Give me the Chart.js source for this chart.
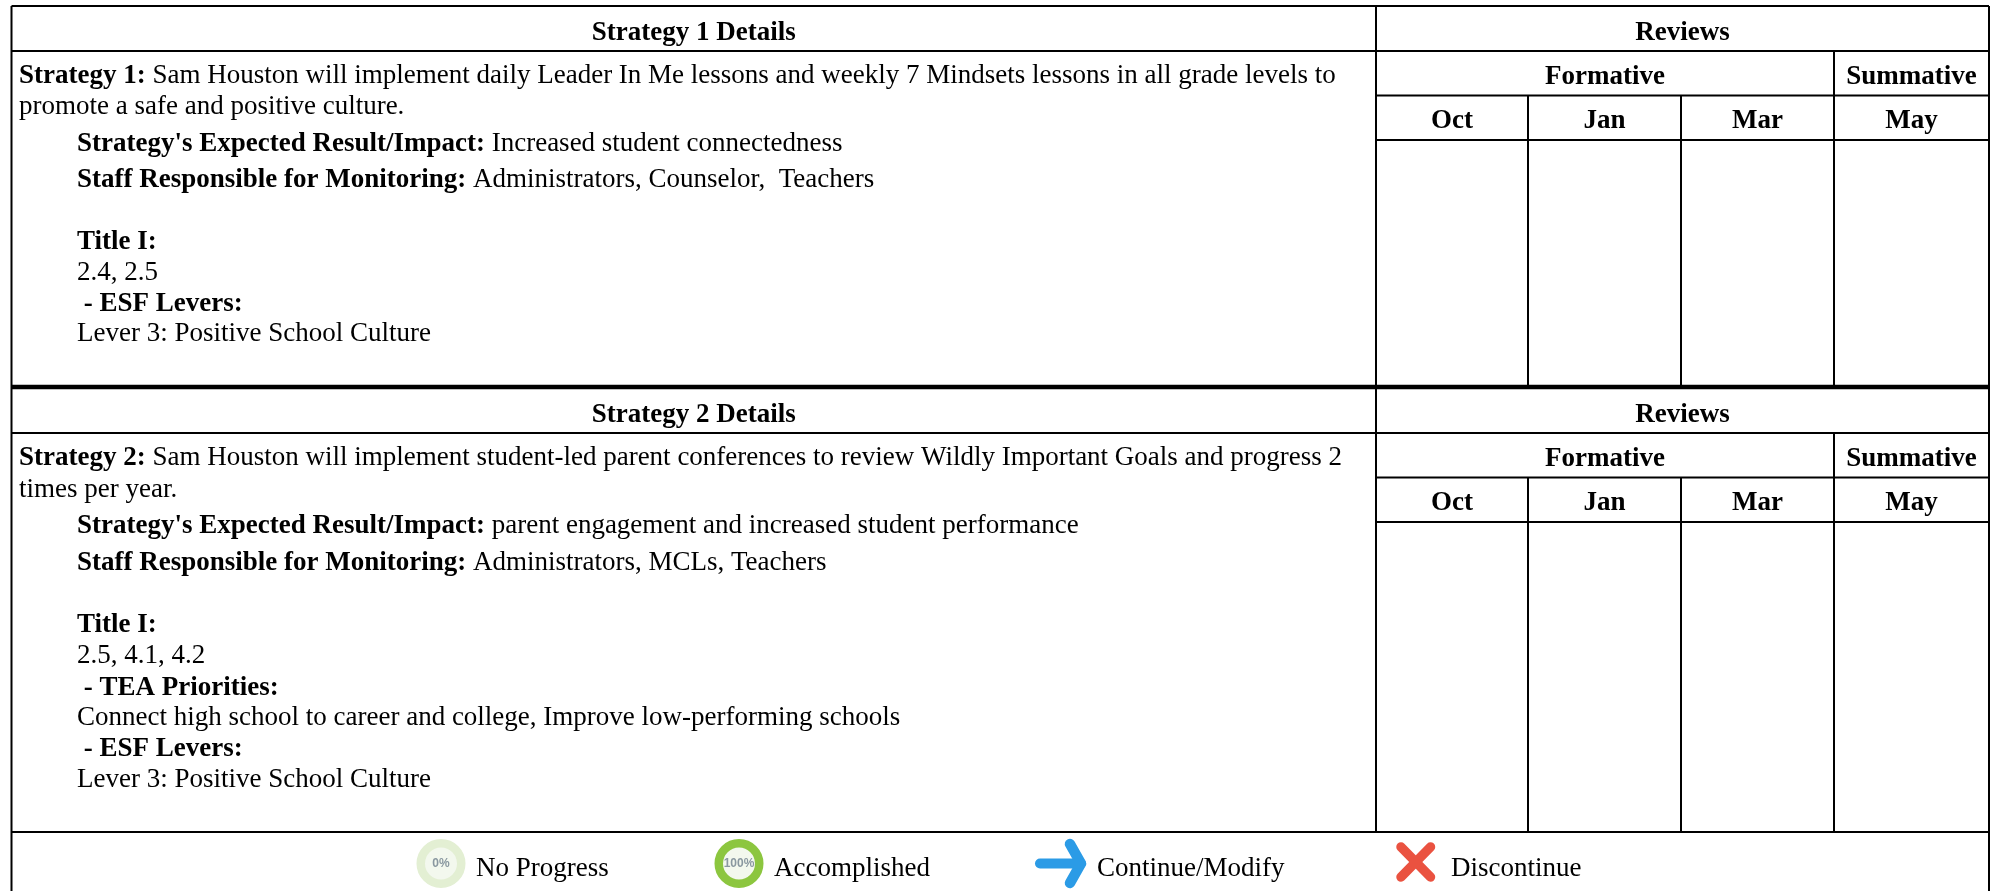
<!DOCTYPE html>
<html>
<head>
<meta charset="utf-8">
<title>Strategy Details</title>
<script src="https://cdn.jsdelivr.net/npm/chart.js@4"></script>
<style>
  body { margin: 0; background: #fff; }
  canvas { display: block; }
</style>
</head>
<body>
<canvas id="chart" width="1997" height="891"></canvas>
<script>
// table rules
const columnEdges = [11.5, 1376, 1528, 1681, 1834, 1989];
const block1Rows = [6, 51, 95.5, 140, 387];
const block2Rows = [387, 433, 477.5, 522, 832];
const pageBottom = 891;

const detailHeaders = ["Strategy 1 Details", "Strategy 2 Details"];
const reviewsHeader = "Reviews";
const reviewGroups = ["Formative", "Summative"];
const reviewMonths = ["Oct", "Jan", "Mar", "May"];

// each line is [bold part, normal part]
const strategy1Lines = [
  ["Strategy 1:", " Sam Houston will implement daily Leader In Me lessons and weekly 7 Mindsets lessons in all grade levels to"],
  ["", "promote a safe and positive culture."],
  ["Strategy's Expected Result/Impact:", " Increased student connectedness"],
  ["Staff Responsible for Monitoring:", " Administrators, Counselor,  Teachers"],
  ["Title I:", ""],
  ["", "2.4, 2.5"],
  [" - ESF Levers:", ""],
  ["", "Lever 3: Positive School Culture"]
];
const strategy2Lines = [
  ["Strategy 2:", " Sam Houston will implement student-led parent conferences to review Wildly Important Goals and progress 2"],
  ["", "times per year."],
  ["Strategy's Expected Result/Impact:", " parent engagement and increased student performance"],
  ["Staff Responsible for Monitoring:", " Administrators, MCLs, Teachers"],
  ["Title I:", ""],
  ["", "2.5, 4.1, 4.2"],
  [" - TEA Priorities:", ""],
  ["", "Connect high school to career and college, Improve low-performing schools"],
  [" - ESF Levers:", ""],
  ["", "Lever 3: Positive School Culture"]
];
const lineBaselines1 = [83, 114, 151, 187, 249, 280, 311, 341];
const lineBaselines2 = [465, 497, 533, 570, 632, 663, 695, 725, 756, 787];
const lineLefts = [19, 19, 77, 77, 77, 77, 77, 77, 77, 77];

const legendLabels = ["No Progress", "Accomplished", "Continue/Modify", "Discontinue"];
const legendLabelX = [476, 774, 1097, 1451];
const legendBaseline = 876;

const noProgressSpot = [{ x: 441, y: 863.5 }];
const accomplishedSpot = [{ x: 739, y: 863.5 }];
const arrowShaft = [{ x: 1040, y: 863.5 }, { x: 1081, y: 863.5 }];
const arrowHead = [{ x: 1070, y: 844 }, { x: 1081, y: 863.5 }, { x: 1070, y: 883 }];
const crossDown = [{ x: 1401, y: 847 }, { x: 1430.5, y: 877 }];
const crossUp = [{ x: 1430.5, y: 847 }, { x: 1401, y: 877 }];

function rule(x1, y1, x2, y2, width) {
  return {
    type: "line",
    data: [{ x: x1, y: y1 }, { x: x2, y: y2 }],
    borderColor: "#000",
    borderWidth: width || 2,
    pointRadius: 0,
    borderCapStyle: "butt",
    clip: false
  };
}

function blockRules(rows) {
  const left = columnEdges[0], mid = columnEdges[1], right = columnEdges[5];
  return [
    rule(left, rows[1], right, rows[1]),
    rule(mid, rows[2], right, rows[2]),
    rule(mid, rows[3], right, rows[3]),
    rule(mid, rows[0], mid, rows[4]),
    rule(columnEdges[2], rows[2], columnEdges[2], rows[4]),
    rule(columnEdges[3], rows[2], columnEdges[3], rows[4]),
    rule(columnEdges[4], rows[1], columnEdges[4], rows[4])
  ];
}

function icon(data, color, width) {
  return {
    type: "line",
    data: data,
    borderColor: color,
    borderWidth: width,
    pointRadius: 0,
    borderCapStyle: "round",
    borderJoinStyle: "round",
    clip: false
  };
}

function ring(data, fill, stroke) {
  return {
    type: "scatter",
    data: data,
    pointRadius: 20.25,
    pointBorderWidth: 8.5,
    pointBackgroundColor: fill,
    pointBorderColor: stroke,
    clip: false
  };
}

const datasets = [
  rule(columnEdges[0], block1Rows[0], columnEdges[5], block1Rows[0]),
  rule(columnEdges[0], block1Rows[0], columnEdges[0], pageBottom),
  rule(columnEdges[5], block1Rows[0], columnEdges[5], pageBottom),
  rule(columnEdges[0], block1Rows[4], columnEdges[5], block1Rows[4], 4.5),
  rule(columnEdges[0], block2Rows[4], columnEdges[5], block2Rows[4], 2)
].concat(blockRules(block1Rows), blockRules(block2Rows), [
  ring(noProgressSpot, "#f3f8ee", "#e3efd3"),
  ring(accomplishedSpot, "#f3f8ee", "#8cc63f"),
  icon(arrowShaft, "#2b9be6", 10),
  icon(arrowHead, "#2b9be6", 10.5),
  icon(crossDown, "#ea5240", 9.5),
  icon(crossUp, "#ea5240", 9.5)
]);

const SERIF = '"Liberation Serif", "Times New Roman", serif';

const tableText = {
  id: "tableText",
  afterDatasetsDraw(chart) {
    const ctx = chart.ctx;
    const sx = chart.scales.x, sy = chart.scales.y;

    function put(text, x, y, bold, align) {
      ctx.font = (bold ? "bold " : "") + "27px " + SERIF;
      ctx.textAlign = align || "left";
      ctx.fillText(text, sx.getPixelForValue(x), sy.getPixelForValue(y));
    }

    function mid(a, b) {
      return (a + b) / 2;
    }

    ctx.save();
    ctx.fillStyle = "#000";
    ctx.textBaseline = "alphabetic";

    [block1Rows, block2Rows].forEach(function (rows, i) {
      const offset = rows[1] - block1Rows[1];
      put(detailHeaders[i], mid(columnEdges[0], columnEdges[1]), 40 + offset, true, "center");
      put(reviewsHeader, mid(columnEdges[1], columnEdges[5]), 40 + offset, true, "center");
      put(reviewGroups[0], mid(columnEdges[1], columnEdges[4]), 84 + offset, true, "center");
      put(reviewGroups[1], mid(columnEdges[4], columnEdges[5]), 84 + offset, true, "center");
      reviewMonths.forEach(function (m, j) {
        put(m, mid(columnEdges[j + 1], columnEdges[j + 2]), 128 + offset, true, "center");
      });
    });

    function drawLines(lines, baselines) {
      lines.forEach(function (line, i) {
        let x = lineLefts[i];
        if (line[0]) {
          put(line[0], x, baselines[i], true);
          x += ctx.measureText(line[0]).width;
        }
        if (line[1]) {
          put(line[1], x, baselines[i], false);
        }
      });
    }
    drawLines(strategy1Lines, lineBaselines1);
    drawLines(strategy2Lines, lineBaselines2);

    legendLabels.forEach(function (label, i) {
      put(label, legendLabelX[i], legendBaseline, false);
    });

    // percent labels inside the two rings
    ctx.fillStyle = "#8a98a0";
    ctx.font = 'bold 12px "Liberation Sans", Arial, sans-serif';
    ctx.textAlign = "center";
    ctx.textBaseline = "middle";
    ctx.fillText("0%", sx.getPixelForValue(noProgressSpot[0].x), sy.getPixelForValue(noProgressSpot[0].y));
    ctx.fillText("100%", sx.getPixelForValue(accomplishedSpot[0].x), sy.getPixelForValue(accomplishedSpot[0].y));
    ctx.restore();
  }
};

new Chart(document.getElementById("chart"), {
  type: "scatter",
  data: { datasets: datasets },
  plugins: [tableText],
  options: {
    responsive: false,
    animation: false,
    layout: { padding: 0, autoPadding: false },
    plugins: { legend: { display: false }, tooltip: { enabled: false } },
    scales: {
      x: { type: "linear", min: 0, max: 1997, display: false },
      y: { type: "linear", min: 0, max: 891, reverse: true, display: false }
    }
  }
});
</script>
</body>
</html>
